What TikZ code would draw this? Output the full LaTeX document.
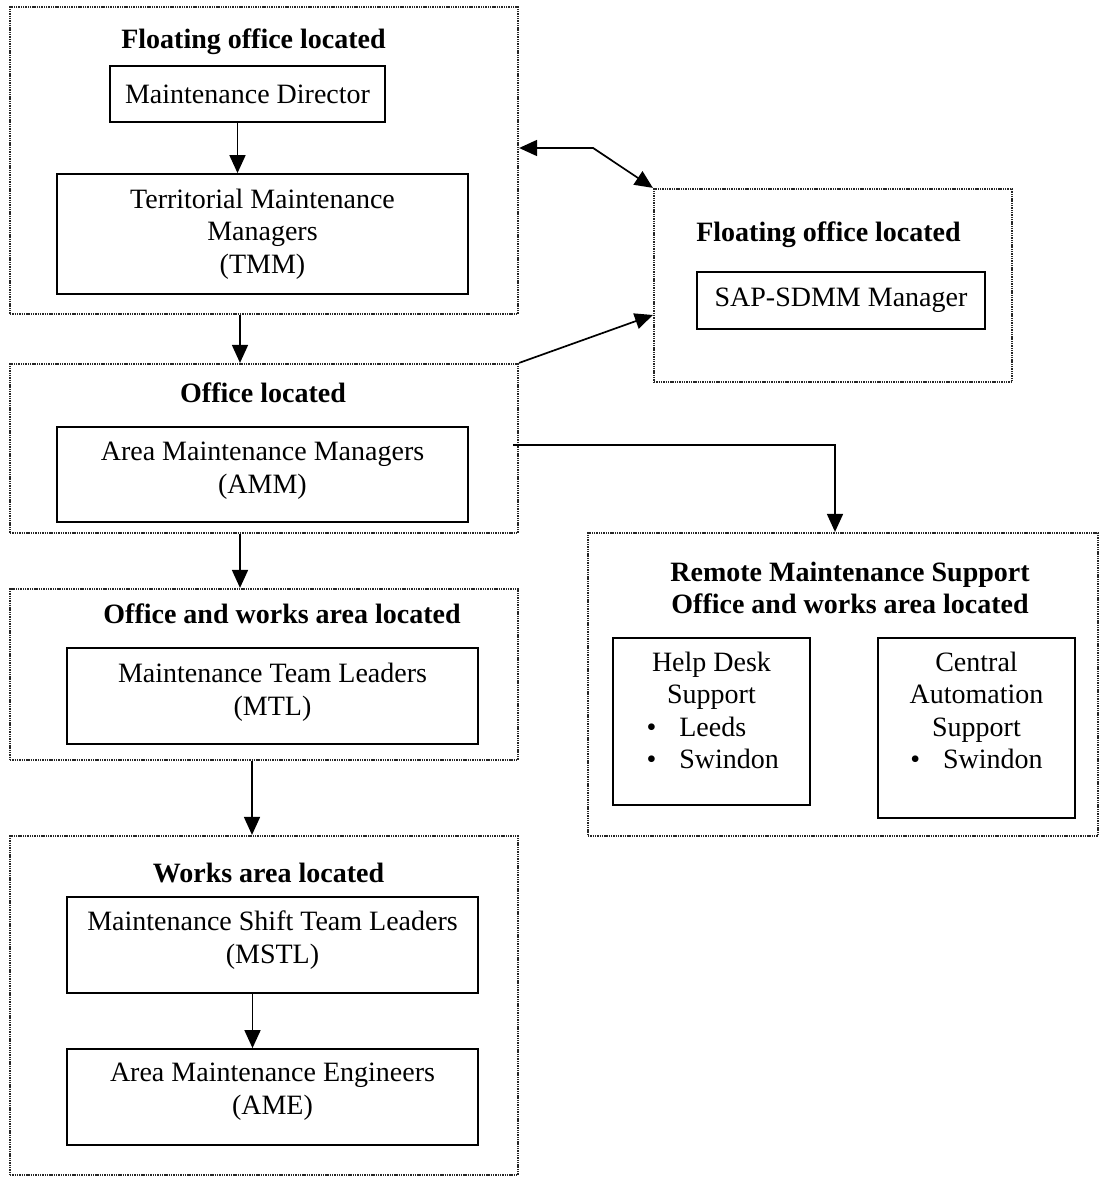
\documentclass[tikz,border=0pt]{standalone}
\usepackage{fontspec}
\setmainfont{Liberation Serif}
\usetikzlibrary{arrows.meta}
\newcommand{\placebullet}[1]{\makebox[65pt][l]{\textbullet\hspace{11.5pt}#1}}
\newcommand{\padbelow}[1]{\\[#1]\mbox{}}
\tikzset{
>={Triangle[length=9pt,width=8pt]}, % solid heads on every link
every node/.style={font=\fontsize{14}{16.3}\selectfont}, % body text
site/.style={draw=black!85, line width=1.1pt, dash pattern=on 0.7pt off 0.45pt, inner sep=0pt}, % dotted location frames
role/.style={draw, line width=0.9pt, align=center, inner sep=0pt}, % solid role boxes
head/.style={font=\fontsize{14}{16.3}\selectfont\bfseries, align=center}, % frame titles
link/.style={->, line width=0.85pt}, % reporting lines
}

\begin{document}
\begin{tikzpicture}[x=0.5pt, y=-0.5pt]
    \useasboundingbox (0,0) rectangle (1100,1177);

    % location frames
    \node[site, minimum width=254pt, minimum height=153.5pt] (floatOff) at (264,160.5) {};
    \node[site, minimum width=254pt, minimum height=84.5pt] (officeLoc) at (264,448.5) {};
    \node[site, minimum width=254pt, minimum height=85.5pt] (worksOff) at (264,674.5) {};
    \node[site, minimum width=254pt, minimum height=169.5pt] (worksArea) at (264,1005.5) {};
    \node[site, minimum width=179pt, minimum height=96.5pt] (sapOff) at (833,285.5) {};
    \node[site, minimum width=255pt, minimum height=151.5pt] (remoteSup) at (843,684.5) {};

    % frame titles
    \node[head] (floatTitle) at (253.5,42) {Floating office located};
    \node[head] (officeTitle) at (263,393) {Office located};
    \node[head] (worksTitle) at (282,614) {Office and works area located};
    \node[head] (areaTitle) at (268.5,873) {Works area located};
    \node[head] (sapTitle) at (828.5,235) {Floating office located};
    \node[head] (remoteTitle) at (850,588) {Remote Maintenance Support\\Office and works area located};

    % roles
    \node[role, minimum width=137.5pt, minimum height=28pt] (director) at (247.5,94) {Maintenance Director};
    \node[role, minimum width=205.5pt, minimum height=60pt] (tmm) at (262.5,234) {Territorial Maintenance\\Managers\\(TMM)};
    \node[role, minimum width=205.5pt, minimum height=47.5pt] (amm) at (262.5,474.5) {Area Maintenance Managers\\(AMM)\padbelow{-9.3pt}};
    \node[role, minimum width=205.5pt, minimum height=48pt] (mtl) at (272.5,696) {Maintenance Team Leaders\\(MTL)\padbelow{-9.3pt}};
    \node[role, minimum width=205.5pt, minimum height=48pt] (mstl) at (272.5,945) {Maintenance Shift Team Leaders\\(MSTL)\padbelow{-8.3pt}};
    \node[role, minimum width=205.5pt, minimum height=48pt] (ame) at (272.5,1097) {Area Maintenance Engineers\\(AME)\padbelow{-8.3pt}};
    \node[role, minimum width=144pt, minimum height=28.5pt] (sdmm) at (841,300.5) {SAP-SDMM Manager};
    \node[role, minimum width=98.5pt, minimum height=83.5pt] (helpdesk) at (711.5,721.5)
        {Help Desk\\Support\\\placebullet{Leeds}\\\placebullet{Swindon}\padbelow{-5pt}};
    \node[role, minimum width=98.5pt, minimum height=90pt] (automation) at (976.5,728)
        {Central\\Automation\\Support\\\textbullet\hspace{11.5pt}Swindon\padbelow{1.5pt}};

    % reporting lines
    \draw[link] ([xshift=-5pt]director.south) -- ([xshift=-5pt]director.south |- tmm.north);
    \draw[link] ([xshift=-12pt]floatOff.south) -- ([xshift=-12pt]floatOff.south |- officeLoc.north);
    \draw[link] ([xshift=-12pt]officeLoc.south) -- ([xshift=-12pt]officeLoc.south |- worksOff.north);
    \draw[link] ([xshift=-6pt]worksOff.south) -- ([xshift=-6pt]worksOff.south |- worksArea.north);
    \draw[link] ([xshift=-10pt]mstl.south) -- ([xshift=-10pt]mstl.south |- ame.north);
    \draw[link, <->] ([yshift=6.25pt]floatOff.east) -- ++(37pt,0) -- (sapOff.north west);
    \draw[link] (officeLoc.north east) -- ([yshift=-14.75pt]sapOff.west);
    \draw[link] ([xshift=-3pt,yshift=1.75pt]officeLoc.east) -| ([xshift=-4pt]remoteSup.north);
\end{tikzpicture}
\end{document}
